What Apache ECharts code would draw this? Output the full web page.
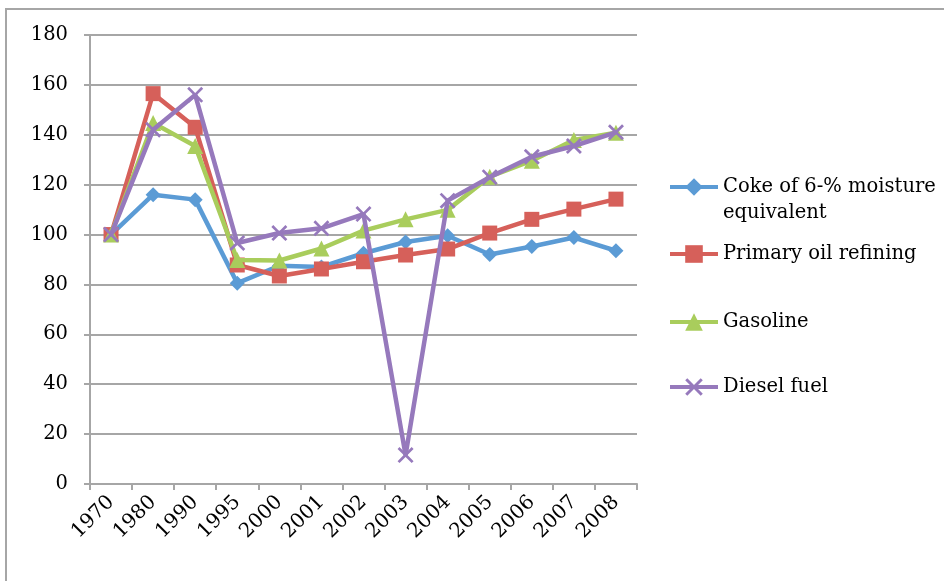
<!DOCTYPE html>
<html>
<head>
<meta charset="utf-8">
<style>
  html, body { margin: 0; padding: 0; background: #fff; }
  #chart { width: 944px; height: 581px; }
</style>
<script src="https://cdn.jsdelivr.net/npm/echarts@6/dist/echarts.min.js"></script>
</head>
<body>
<div id="chart"></div>
<script>
// Index values by year (1970 = 100)
const years = ['1970', '1980', '1990', '1995', '2000', '2001', '2002', '2003', '2004', '2005', '2006', '2007', '2008'];
const coke = [100, 116, 114, 80.5, 87.5, 87, 92.5, 97, 99.5, 92, 95.2, 98.8, 93.5];
const primaryOil = [100, 156.5, 143, 87.8, 83.4, 86.2, 89.1, 91.8, 94.2, 100.6, 106.1, 110.2, 114.2];
const gasoline = [100, 144.7, 135.5, 89.8, 89.6, 94.4, 101.6, 106.1, 109.9, 123.2, 129.6, 137.9, 140.8];
const diesel = [100, 142, 156, 96.6, 100.6, 102.5, 108.2, 11.6, 113.6, 123, 131.2, 135.5, 141];
const yTicks = [0, 20, 40, 60, 80, 100, 120, 140, 160, 180];

const names = ['Coke of 6-% moisture equivalent', 'Primary oil refining', 'Gasoline', 'Diesel fuel'];
const colors = ['#5B9BD5', '#D6605A', '#A9CD5C', '#9679BC'];
const crossPath = 'path://M0,1.2L1.2,0L5,3.8L8.8,0L10,1.2L6.2,5L10,8.8L8.8,10L5,6.2L1.2,10L0,8.8L3.8,5Z';
const symbols = ['diamond', 'rect', 'triangle', crossPath];
const symbolSizes = [15, 15, 16, 16];
const seriesData = [coke, primaryOil, gasoline, diesel];

const serif = '"DejaVu Serif", "Liberation Serif", serif';
const legendTops = [148, 241, 309, 374];
// first legend entry wraps onto two lines; a blank leading line keeps its icon on the first line
const legendLabels = ['\u00a0\nCoke of 6-% moisture\nequivalent', 'Primary oil refining', 'Gasoline', 'Diesel fuel'];

const chart = echarts.init(document.getElementById('chart'));

const legends = names.map((n, i) => ({
  data: [n],
  orient: 'vertical',
  left: 668,
  top: legendTops[i],
  padding: 0,
  itemWidth: 48,
  itemHeight: 22,
  itemGap: 0,
  selectedMode: false,
  formatter: () => legendLabels[i],
  lineStyle: { width: 4 },
  textStyle: {
    fontFamily: serif,
    fontSize: 19.5,
    color: '#000',
    lineHeight: 26
  }
}));

chart.setOption({
  backgroundColor: '#fff',
  animation: false,
  color: colors,
  graphic: [
    { type: 'line', shape: { x1: 5, y1: 9, x2: 944, y2: 9 }, style: { stroke: '#A6A6A6', lineWidth: 2 } },
    { type: 'line', shape: { x1: 6, y1: 9, x2: 6, y2: 581 }, style: { stroke: '#A6A6A6', lineWidth: 2 } }
  ],
  legend: legends,
  grid: { left: 90, right: 307, top: 35, bottom: 97, containLabel: false },
  xAxis: {
    type: 'category',
    data: years,
    boundaryGap: true,
    axisLine: { lineStyle: { color: '#A6A6A6', width: 2 } },
    axisTick: { show: true, alignWithLabel: false, length: 6, lineStyle: { color: '#A6A6A6', width: 2 } },
    axisLabel: {
      rotate: 45,
      interval: 0,
      margin: 15,
      fontFamily: serif,
      fontSize: 20,
      color: '#000'
    }
  },
  yAxis: {
    type: 'value',
    min: yTicks[0],
    max: yTicks[yTicks.length - 1],
    interval: 20,
    axisLine: { show: true, lineStyle: { color: '#A6A6A6', width: 2 } },
    axisTick: { show: true, inside: false, length: 6, lineStyle: { color: '#A6A6A6', width: 2 } },
    splitLine: { lineStyle: { color: '#A6A6A6', width: 2 } },
    axisLabel: {
      margin: 22,
      fontFamily: serif,
      fontSize: 19.5,
      color: '#000'
    }
  },
  series: names.map((n, i) => ({
    name: n,
    type: 'line',
    data: seriesData[i],
    symbol: symbols[i],
    symbolSize: symbolSizes[i],
    showAllSymbol: true,
    lineStyle: { width: 4.5, color: colors[i] },
    itemStyle: { color: colors[i] },
    z: 2 + i
  }))
});
</script>
</body>
</html>
